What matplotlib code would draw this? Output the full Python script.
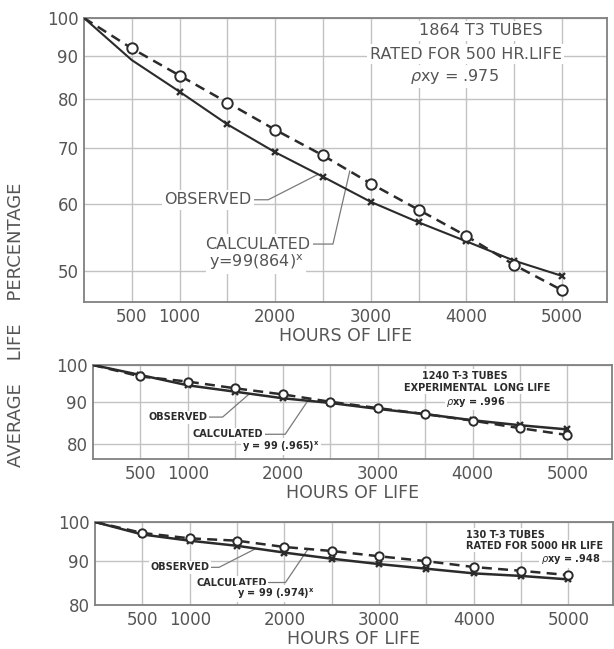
import numpy as np
import matplotlib
matplotlib.use("Agg")
import matplotlib.pyplot as plt
from matplotlib.ticker import FixedLocator, FixedFormatter, NullLocator

# hours of life (x axis)
hours = [0, 500, 1000, 1500, 2000, 2500, 3000, 3500, 4000, 4500, 5000]
x_ticks = [500, 1000, 1500, 2000, 2500, 3000, 3500, 4000, 4500, 5000]
x_ticklabels = ["500", "1000", "", "2000", "", "3000", "", "4000", "", "5000"]

# 1864 T3 tubes, rated for 500 hr life
top_calc = [100, 92.0, 85.4, 79.3, 73.6, 68.6, 63.5, 59.1, 55.0, 50.8, 47.4]
top_obs = [100, 89.1, 81.7, 74.7, 69.2, 64.7, 60.4, 57.1, 54.2, 51.4, 49.3]
top_yticks = [50, 60, 70, 80, 90, 100]

# 1240 T-3 tubes, experimental long life
mid_calc = [100, 96.8, 95.4, 93.6, 92.0, 90.1, 88.5, 87.0, 85.4, 83.6, 82.0]
mid_obs = [100, 97.2, 94.4, 92.7, 91.0, 89.8, 88.3, 87.0, 85.5, 84.3, 83.3]
mid_yticks = [80, 90, 100]

# 130 T-3 tubes, rated for 5000 hr life
bot_calc = [100, 97.1, 95.7, 95.1, 93.5, 92.5, 91.2, 90.0, 88.6, 87.7, 86.7]
bot_obs = [100, 96.7, 95.1, 93.8, 92.1, 90.6, 89.3, 88.2, 87.1, 86.5, 85.7]
bot_yticks = [80, 90, 100]

ink = "#2b2b2b"
gray = "#555555"
lead = "#7a7a7a"

fig = plt.figure(figsize=(6.14, 6.49), dpi=100)


def panel(rect, ylim, yticks, calc, obs, obs_every, ms_circ, big):
    ax = fig.add_axes(rect)
    ax.set_yscale("log")
    ax.set_xlim(0, 5470)
    ax.set_ylim(*ylim)
    ax.yaxis.set_major_locator(FixedLocator(yticks))
    ax.yaxis.set_major_formatter(FixedFormatter([str(t) for t in yticks]))
    ax.yaxis.set_minor_locator(NullLocator())
    ax.xaxis.set_major_locator(FixedLocator(x_ticks))
    ax.xaxis.set_major_formatter(FixedFormatter(x_ticklabels))
    ax.set_axisbelow(True)
    ax.grid(True, color="#c2c2c2", lw=1.0)
    for s in ax.spines.values():
        s.set_color("#808080")
        s.set_linewidth(1.3)
    ax.tick_params(length=0, labelsize=12, labelcolor=gray, pad=4)
    ax.set_xlabel("HOURS OF LIFE", fontsize=12.5, color=gray, labelpad=1)
    # observed: solid with x marks, calculated: dashed with open circles
    ax.plot(hours, obs, color=ink, lw=1.5 if big else 1.8, marker="x",
            ms=5 if big else 4.5, mew=1.7, markevery=obs_every, zorder=3)
    ax.plot(hours, calc, color=ink, lw=1.8, ls=(0, (4, 2.5)), marker="o",
            ms=ms_circ, mfc="white", mec=ink, mew=1.4,
            markevery=list(range(1, 11)), zorder=4)
    return ax


def leader(ax, text, pos, hour, series, angle, size, weight):
    ax.annotate(text, xy=(hour, np.interp(hour, hours, series)), xycoords="data",
                xytext=pos, textcoords="axes fraction", ha="center", va="center",
                fontsize=size, fontweight=weight, color=ink if weight == "bold" else gray,
                zorder=1.5,
                bbox=dict(boxstyle="square,pad=0.15", fc="white", ec="none"),
                arrowprops=dict(arrowstyle="-", color=lead, lw=0.9, shrinkA=0, shrinkB=0,
                                connectionstyle=f"angle,angleA=0,angleB={angle},rad=0"))


def note(ax, text, pos, size, weight, ha="center"):
    ax.text(pos[0], pos[1], text, transform=ax.transAxes, ha=ha, va="center",
            fontsize=size, fontweight=weight, color=ink if weight == "bold" else gray,
            zorder=1.5, bbox=dict(boxstyle="square,pad=0.15", fc="white", ec="none"))


# top panel
ax1 = panel([84 / 614, 1 - 302 / 649, 523 / 614, 284 / 649], (45.9, 100), top_yticks,
            top_calc, top_obs, list(range(2, 11)), 7.5, True)
note(ax1, "1864 T3 TUBES", (0.759, 0.955), 11.5, "normal")
note(ax1, "RATED FOR 500 HR.LIFE", (0.730, 0.872), 11.5, "normal")
note(ax1, r"$\rho$xy = .975", (0.709, 0.794), 11.5, "normal")
leader(ax1, "OBSERVED", (0.237, 0.360), 2450, top_obs, 27, 11.5, "normal")
leader(ax1, "CALCULATED", (0.333, 0.204), 2780, top_calc, 77, 11.5, "normal")
note(ax1, r"y=99(864)$^{\mathregular{x}}$", (0.329, 0.141), 11.5, "normal")

# middle panel
ax2 = panel([93 / 614, 1 - 459 / 649, 519 / 614, 94 / 649], (76.6, 100), mid_yticks,
            mid_calc, mid_obs, list(range(1, 11)), 6, False)
note(ax2, "1240 T-3 TUBES", (0.717, 0.885), 7, "bold")
note(ax2, "EXPERIMENTAL  LONG LIFE", (0.740, 0.755), 7, "bold")
note(ax2, r"$\rho$xy = .996", (0.738, 0.606), 7, "bold")
leader(ax2, "OBSERVED", (0.164, 0.446), 1650, mid_obs, 41, 7, "bold")
leader(ax2, "CALCULATED", (0.260, 0.263), 2280, mid_calc, 56, 7, "bold")
note(ax2, r"y = 99 (.965)$^{\mathregular{x}}$", (0.362, 0.132), 7, "bold")

# bottom panel
ax3 = panel([95 / 614, 1 - 605 / 649, 518 / 614, 83 / 649], (80, 100), bot_yticks,
            bot_calc, bot_obs, list(range(1, 11)), 6, False)
note(ax3, "130 T-3 TUBES", (0.792, 0.847), 7, "bold")
note(ax3, "RATED FOR 5000 HR LIFE", (0.981, 0.711), 7, "bold", ha="right")
note(ax3, r"$\rho$xy = .948", (0.975, 0.553), 7, "bold", ha="right")
leader(ax3, "OBSERVED", (0.164, 0.454), 1700, bot_obs, 27, 7, "bold")
leader(ax3, "CALCULATED", (0.264, 0.271), 2250, bot_calc, 56, 7, "bold")
note(ax3, r"y = 99 (.974)$^{\mathregular{x}}$", (0.349, 0.140), 7, "bold")

fig.text(0.026, 0.5, "AVERAGE    LIFE    PERCENTAGE", rotation=90, ha="center",
         va="center", fontsize=13, color=gray)

fig.savefig("out.png", dpi=100)
plt.close(fig)
